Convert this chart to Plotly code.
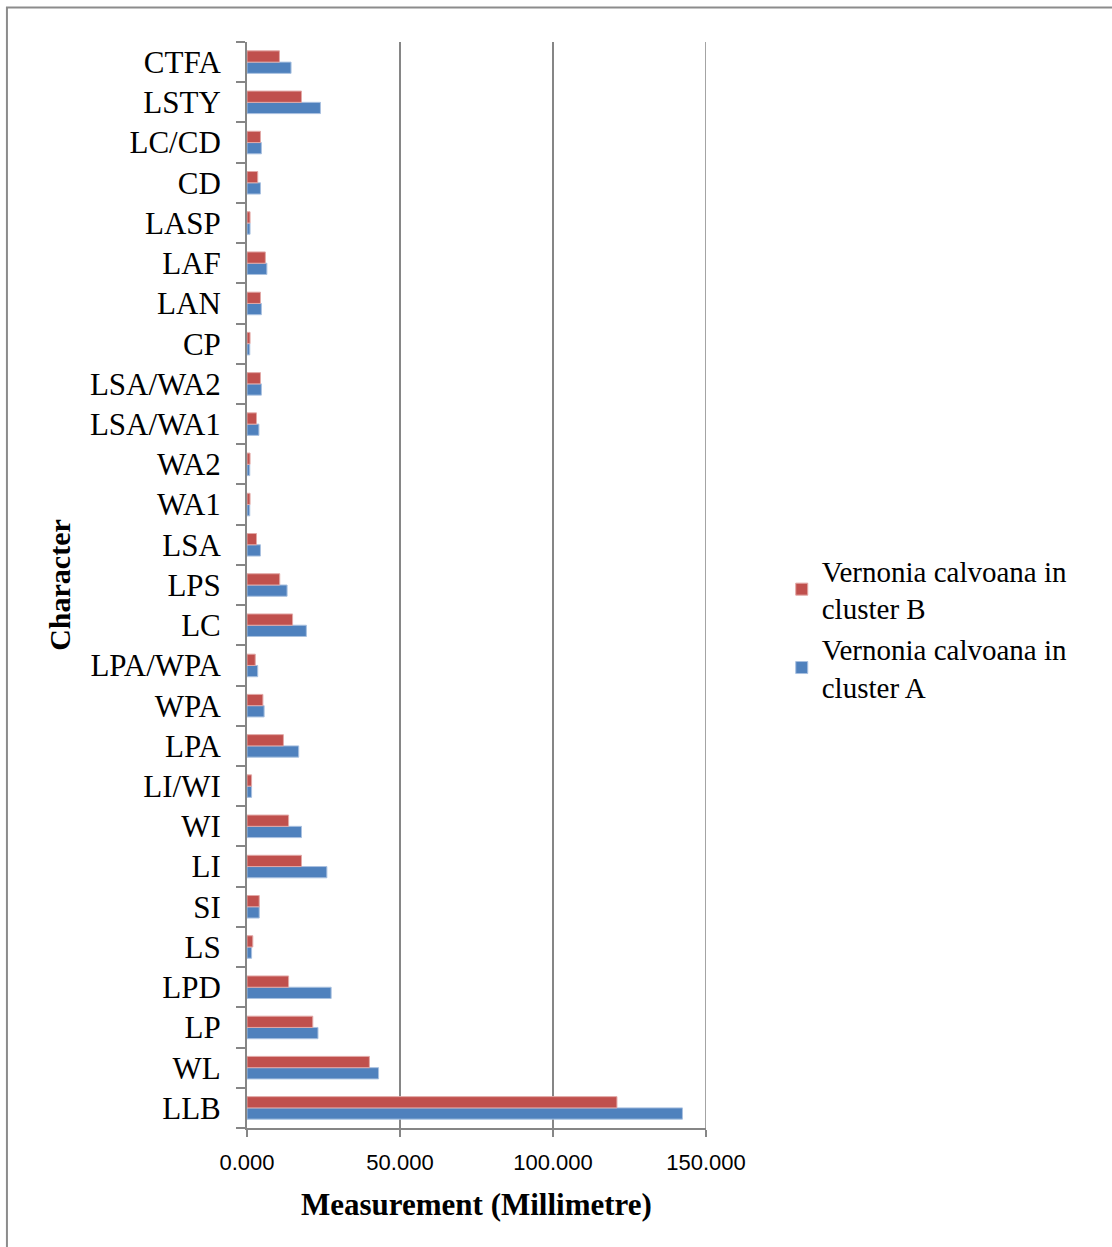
import plotly.graph_objects as go

# Leaf and floral characters, listed bottom to top
characters = ["LLB", "WL", "LP", "LPD", "LS", "SI", "LI", "WI", "LI/WI", "LPA",
              "WPA", "LPA/WPA", "LC", "LPS", "LSA", "WA1", "WA2", "LSA/WA1",
              "LSA/WA2", "CP", "LAN", "LAF", "LASP", "CD", "LC/CD", "LSTY", "CTFA"]

# Mean measurements (mm)
cluster_a = [142.3, 43.0, 23.2, 27.5, 1.5, 4.0, 26.1, 17.8, 1.5, 16.9,
             5.6, 3.5, 19.4, 13.1, 4.4, 0.9, 0.9, 3.9,
             4.7, 0.9, 4.7, 6.5, 1.0, 4.4, 4.7, 24.0, 14.4]
cluster_b = [120.9, 40.0, 21.5, 13.6, 1.9, 4.0, 17.8, 13.6, 1.5, 11.9,
             5.2, 2.7, 14.9, 10.7, 3.1, 1.0, 1.0, 3.1,
             4.4, 1.0, 4.4, 6.0, 1.0, 3.5, 4.4, 17.8, 10.6]

x_ticks = [0, 50, 100, 150]
x_tick_labels = ["0.000", "50.000", "100.000", "150.000"]

SERIF = "Liberation Serif, Times New Roman, serif"
SANS = "Liberation Sans, Arial, sans-serif"
GREY = "#868686"

fig = go.Figure()
fig.add_trace(go.Bar(
    y=characters, x=cluster_a, orientation="h",
    name="Vernonia calvoana in<br>cluster A", legendgroup="a",
    marker=dict(color="#4F81BD", line=dict(color="#A9C1E0", width=1)),
))
fig.add_trace(go.Bar(
    y=characters, x=cluster_b, orientation="h",
    name="Vernonia calvoana in<br>cluster B", legendgroup="b",
    marker=dict(color="#C0504D", line=dict(color="#E2A8A6", width=1)),
))

fig.update_layout(
    width=1112, height=1247,
    margin=dict(l=247, r=406, t=42, b=119),
    paper_bgcolor="white", plot_bgcolor="white",
    barmode="group", bargap=0.44, bargroupgap=0,
    showlegend=True,
    legend=dict(
        traceorder="reversed",
        x=1.165, xanchor="left", y=0.46, yanchor="middle",
        font=dict(family=SERIF, size=29, color="#000000"),
        itemwidth=30, tracegroupgap=13,
        bgcolor="rgba(0,0,0,0)",
    ),
    xaxis=dict(
        range=[0, 150], tickvals=x_ticks, ticktext=x_tick_labels,
        showgrid=True, gridcolor=GREY, gridwidth=1.5,
        zeroline=False, showline=True, linecolor=GREY, linewidth=1.5,
        ticks="outside", ticklen=7, tickcolor=GREY, tickwidth=1.5,
        tickfont=dict(family=SANS, size=22, color="#000000"),
        ticklabelstandoff=7,
        fixedrange=True,
    ),
    yaxis=dict(
        type="category", categoryorder="array", categoryarray=characters,
        showgrid=False, zeroline=False,
        showline=True, linecolor=GREY, linewidth=2,
        ticks="outside", tickson="boundaries", ticklen=9,
        tickcolor=GREY, tickwidth=1.5,
        tickfont=dict(family=SERIF, size=31, color="#000000"),
        ticklabelstandoff=18,
    ),
    annotations=[
        dict(text="<b>Measurement (Millimetre)</b>", xref="paper", yref="paper",
             x=0.5, y=-0.07, xanchor="center", yanchor="middle", showarrow=False,
             font=dict(family=SERIF, size=31, color="#000000")),
        dict(text="<b>Character</b>", xref="paper", yref="paper",
             x=-0.41, y=0.5, xanchor="center", yanchor="middle", showarrow=False,
             textangle=-90, font=dict(family=SERIF, size=30, color="#000000")),
    ],
    shapes=[
        # chart-area frame
        dict(type="rect", xref="paper", yref="paper",
             x0=-0.523, x1=1.95, y0=-0.2, y1=1.0318,
             line=dict(color="#8C8C8C", width=2), fillcolor="rgba(0,0,0,0)",
             layer="below"),
        # gridline at the top of the value axis
        dict(type="line", xref="x", yref="paper",
             x0=x_ticks[-1], x1=x_ticks[-1], y0=0, y1=1,
             line=dict(color=GREY, width=1.5), layer="below"),
    ],
)

fig.write_html("out.html")
